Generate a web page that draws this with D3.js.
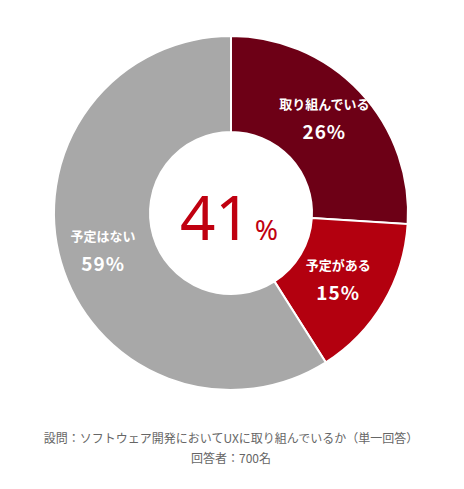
<!DOCTYPE html>
<html><head><meta charset="utf-8">
<script src="https://cdn.jsdelivr.net/npm/d3@7"></script>
<style>body{margin:0;background:#fff;font-family:"Noto Sans CJK JP","Noto Sans",sans-serif;}</style>
</head><body><div id="chart"></div>
<script>
const labels = ["取り組んでいる", "予定がある", "予定はない"];
const values = [26, 15, 59];
const colors = ["#6d0016", "#b3000f", "#a8a8a8"];
const centerValue = 41;
const caption = ["設問：ソフトウェア開発においてUXに取り組んでいるか（単一回答）", "回答者：700名"];

const width = 464, height = 489, cx = 231, cy = 213, outerR = 177, innerR = 81;
const svg = d3.select("#chart").append("svg").attr("width", width).attr("height", height);
const g = svg.append("g").attr("transform", `translate(${cx},${cy})`);

const pie = d3.pie().sort(null).value(d => d);
const arc = d3.arc().innerRadius(innerR).outerRadius(outerR);
const arcs = pie(values);

g.selectAll("path").data(arcs).enter().append("path")
    .attr("d", arc)
    .attr("fill", (d, i) => colors[i])
    .attr("stroke", "#fff").attr("stroke-width", 2);

// label positions: radius along slice middle angle
const labelR = [128, 128, 128];
const shift = [[0, -8], [-3, 0], [-5, 0]];
arcs.forEach((d, i) => {
    const a = (d.startAngle + d.endAngle) / 2;
    const x = Math.sin(a) * labelR[i] + shift[i][0];
    const y = -Math.cos(a) * labelR[i] + shift[i][1];
    g.append("text").attr("x", x).attr("y", y - 8).attr("text-anchor", "middle")
        .attr("fill", "#fff").attr("font-size", 13).attr("font-weight", "bold").text(labels[i]);
    g.append("text").attr("x", x).attr("y", y + 22).attr("text-anchor", "middle")
        .attr("fill", "#fff").attr("font-size", 19).attr("font-weight", "bold")
        .attr("letter-spacing", 1).text(values[i] + "%");
});

const ct = g.append("text").attr("x", -2).attr("y", 27).attr("text-anchor", "middle")
    .attr("fill", "#c00010").attr("font-family", "Noto Sans, sans-serif");
ct.append("tspan").attr("font-size", 62).text(centerValue);
ct.append("tspan").attr("font-size", 28).attr("dx", 4).text("%");

caption.forEach((t, i) => {
    svg.append("text").attr("x", cx).attr("y", 443 + i * 20).attr("text-anchor", "middle")
        .attr("fill", "#666").attr("font-size", 12).text(t);
});
</script></body></html>
